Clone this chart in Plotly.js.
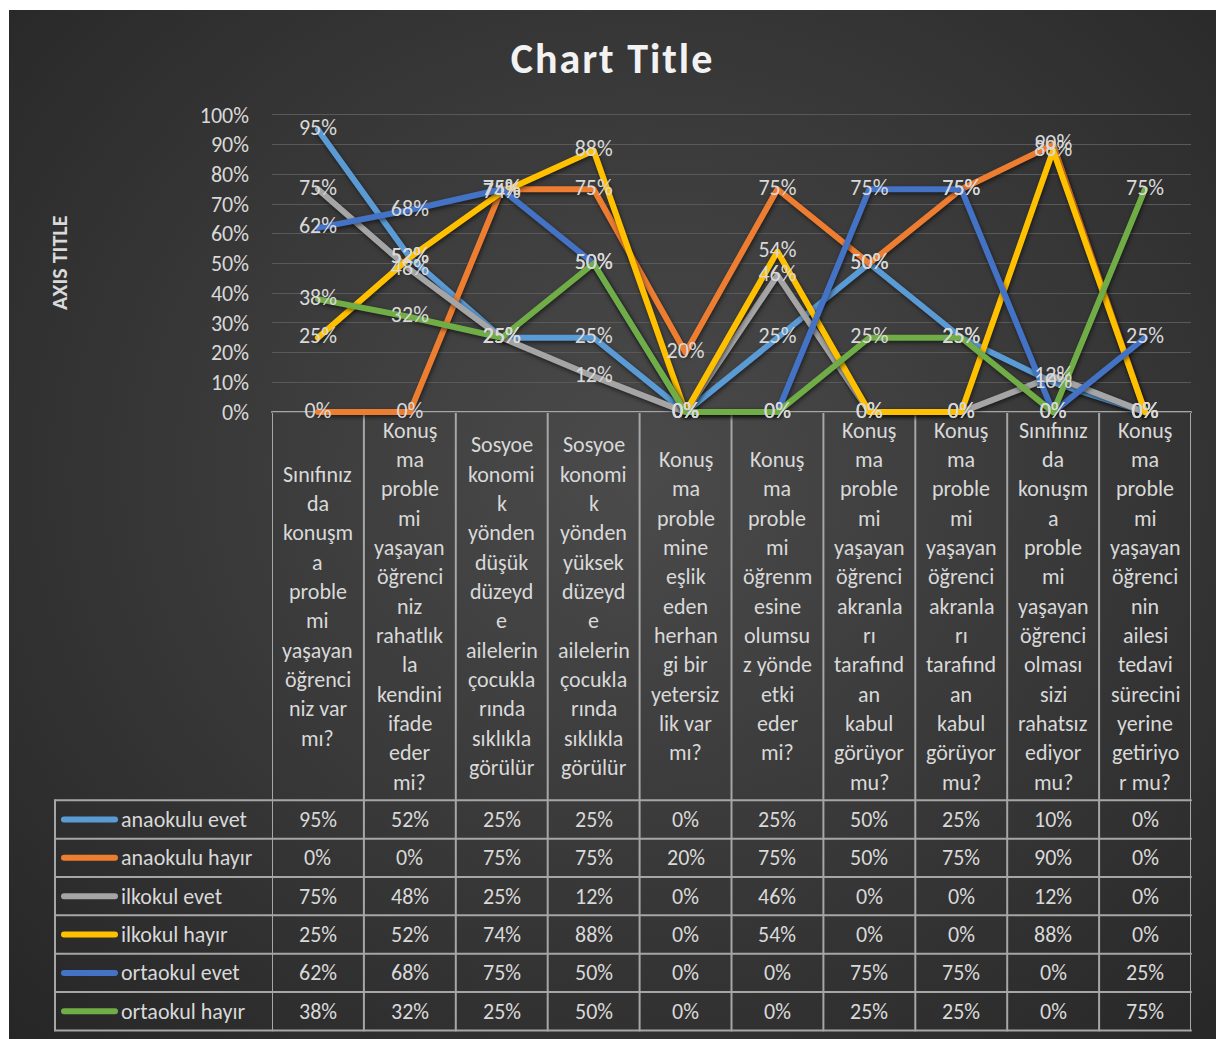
<!DOCTYPE html>
<html>
<head>
<meta charset="utf-8">
<script src="https://cdn.plot.ly/plotly-3.0.1.min.js"></script>
<style>
  html, body { margin: 0; padding: 0; background: #ffffff; }
  #chart {
    position: absolute; left: 9px; top: 10px; width: 1207px; height: 1029px;
    background: radial-gradient(ellipse farthest-corner at 52% 45%, #4b4b4b 0%, #3c3c3c 40%, #262626 100%);
  }
  .scatterlayer .js-line { stroke-linecap: round !important; stroke-linejoin: round !important;
    filter: drop-shadow(1px 2px 2px rgba(0,0,0,0.55)); }
  .shapelayer path { stroke-linecap: round; }
  .gtitle { letter-spacing: 2px; }
</style>
</head>
<body>
<div id="chart"></div>
<script>
// ---------------- DATA ----------------
const categoryLines = [
  "Sınıfınız\nda\nkonuşm\na\nproble\nmi\nyaşayan\nöğrenci\nniz var\nmı?",
  "Konuş\nma\nproble\nmi\nyaşayan\nöğrenci\nniz\nrahatlık\nla\nkendini\nifade\neder\nmi?",
  "Sosyoe\nkonomi\nk\nyönden\ndüşük\ndüzeyd\ne\nailelerin\nçocukla\nrında\nsıklıkla\ngörülür",
  "Sosyoe\nkonomi\nk\nyönden\nyüksek\ndüzeyd\ne\nailelerin\nçocukla\nrında\nsıklıkla\ngörülür",
  "Konuş\nma\nproble\nmine\neşlik\neden\nherhan\ngi bir\nyetersiz\nlik var\nmı?",
  "Konuş\nma\nproble\nmi\nöğrenm\nesine\nolumsu\nz yönde\netki\neder\nmi?",
  "Konuş\nma\nproble\nmi\nyaşayan\nöğrenci\nakranla\nrı\ntarafınd\nan\nkabul\ngörüyor\nmu?",
  "Konuş\nma\nproble\nmi\nyaşayan\nöğrenci\nakranla\nrı\ntarafınd\nan\nkabul\ngörüyor\nmu?",
  "Sınıfınız\nda\nkonuşm\na\nproble\nmi\nyaşayan\nöğrenci\nolması\nsizi\nrahatsız\nediyor\nmu?",
  "Konuş\nma\nproble\nmi\nyaşayan\nöğrenci\nnin\nailesi\ntedavi\nsürecini\nyerine\ngetiriyo\nr mu?"
];

const seriesNames = ["anaokulu evet", "anaokulu hayır", "ilkokul evet", "ilkokul hayır", "ortaokul evet", "ortaokul hayır"];

const anaokuluEvet  = [95, 52, 25, 25, 0, 25, 50, 25, 10, 0];
const anaokuluHayir = [0, 0, 75, 75, 20, 75, 50, 75, 90, 0];
const ilkokulEvet   = [75, 48, 25, 12, 0, 46, 0, 0, 12, 0];
const ilkokulHayir  = [25, 52, 74, 88, 0, 54, 0, 0, 88, 0];
const ortaokulEvet  = [62, 68, 75, 50, 0, 0, 75, 75, 0, 25];
const ortaokulHayir = [38, 32, 25, 50, 0, 0, 25, 25, 0, 75];

const yTickValues = [0, 10, 20, 30, 40, 50, 60, 70, 80, 90, 100];

// ---------------- STYLE / LAYOUT ----------------
const seriesValues = [anaokuluEvet, anaokuluHayir, ilkokulEvet, ilkokulHayir, ortaokulEvet, ortaokulHayir];
const colors = ["#5B9BD5", "#ED7D31", "#A5A5A5", "#FFC000", "#4472C4", "#70AD47"];
const FONT = "Carlito, Lato, 'Open Sans', sans-serif";
const TXT = "#d9d9d9";
const FS = 22;

const W = 1207, H = 1029;
const OX = 9, OY = 10;             // div offset in page
const Y0PAGE = 412, Y1PAGE = 115;  // page y of 0% and 100%
const PAD = 0.03;                  // extra y range so lines at 0% are not clipped
const unitPx = Y0PAGE - Y1PAGE;
const PH = unitPx * (1 + 2 * PAD);
const topMargin = (Y1PAGE - PAD * unitPx) - OY;
const M = { l: 263, r: 25, t: topMargin, b: H - topMargin - PH, pad: 0 };
const PW = W - M.l - M.r;
function fx(pageX) { return (pageX - OX - M.l) / PW; }
function fy(pageY) { return (OY + M.t + PH - pageY) / PH; }

const idx = categoryLines.map((c, i) => i);
const traces = [];
seriesValues.forEach((vals, s) => {
  traces.push({
    type: "scatter", mode: "lines", name: seriesNames[s],
    x: idx, y: vals.map(v => v / 100),
    line: { color: colors[s], width: 6 },
    hoverinfo: "skip", showlegend: false
  });
});
seriesValues.forEach((vals, s) => {
  traces.push({
    type: "scatter", mode: "text",
    x: idx, y: vals.map(v => v / 100),
    text: vals.map(v => v + "%"),
    textposition: "middle center",
    textfont: { family: FONT, size: FS, color: TXT },
    cliponaxis: false, hoverinfo: "skip", showlegend: false
  });
});

const shapes = [];
const annotations = [];
const lineColor = "#a6a6a6";

// table geometry (page px)
const catTop = Y0PAGE, tableTop = 800, tableBottom = 1030, leftX = 55;
const rowH = (tableBottom - tableTop) / seriesNames.length;

for (let k = 0; k <= categoryLines.length; k++) {
  shapes.push({ type: "line", xref: "x", yref: "paper", x0: k - 0.5, x1: k - 0.5,
    y0: fy(catTop), y1: fy(tableBottom), line: { color: lineColor, width: 2 }, layer: "below" });
}
shapes.push({ type: "line", xref: "paper", yref: "paper", x0: 0, x1: 1, y0: fy(catTop), y1: fy(catTop),
  line: { color: lineColor, width: 2 }, layer: "below" });
shapes.push({ type: "line", xref: "paper", yref: "paper", x0: fx(leftX), x1: fx(leftX),
  y0: fy(tableTop), y1: fy(tableBottom), line: { color: lineColor, width: 2 } });
for (let r = 0; r <= seriesNames.length; r++) {
  const yy = fy(tableTop + r * rowH);
  shapes.push({ type: "line", xref: "paper", yref: "paper", x0: fx(leftX), x1: 1,
    y0: yy, y1: yy, line: { color: lineColor, width: 2 } });
}

// category labels
const catCenter = (catTop + tableTop) / 2;
const lineStep = 29.3;
categoryLines.forEach((lab, i) => {
  const lines = lab.split("\n");
  const n = lines.length;
  lines.forEach((ln, j) => {
    annotations.push({ xref: "x", yref: "paper", x: i, y: fy(catCenter + (j - (n - 1) / 2) * lineStep),
      text: ln, showarrow: false, xanchor: "center", yanchor: "middle",
      font: { family: FONT, size: FS, color: TXT } });
  });
});

// table rows: legend key, name, values
seriesNames.forEach((name, s) => {
  const cy = fy(tableTop + (s + 0.5) * rowH);
  shapes.push({ type: "line", xref: "paper", yref: "paper", x0: fx(64), x1: fx(115), y0: cy, y1: cy,
    line: { color: colors[s], width: 6 } });
  annotations.push({ xref: "paper", yref: "paper", x: fx(119), y: cy, text: name, showarrow: false,
    xanchor: "left", yanchor: "middle", font: { family: FONT, size: FS, color: TXT } });
  seriesValues[s].forEach((v, i) => {
    annotations.push({ xref: "x", yref: "paper", x: i, y: cy, text: v + "%", showarrow: false,
      xanchor: "center", yanchor: "middle", font: { family: FONT, size: FS, color: TXT } });
  });
});

// axis title
annotations.push({ xref: "paper", yref: "paper", x: fx(60), y: fy(263), text: "<b>AXIS TITLE</b>",
  textangle: -90, showarrow: false, xanchor: "center", yanchor: "middle",
  font: { family: FONT, size: 22, color: TXT } });

const layout = {
  width: W, height: H,
  margin: M,
  paper_bgcolor: "rgba(0,0,0,0)", plot_bgcolor: "rgba(0,0,0,0)",
  title: { text: "<b>Chart Title</b>", x: 0.5, xanchor: "center", y: 1 - 48 / H, yanchor: "middle",
    font: { family: FONT, size: 42, color: "#f2f2f2" } },
  showlegend: false,
  xaxis: { range: [-0.5, categoryLines.length - 0.5], showticklabels: false, showgrid: false,
    zeroline: false, showline: false, ticks: "", fixedrange: true },
  yaxis: { range: [-PAD, 1 + PAD], tickvals: yTickValues.map(v => v / 100), ticktext: yTickValues.map(v => v + "%"),
    showgrid: true, gridcolor: "#595959", gridwidth: 1, zeroline: false, showline: false, ticks: "",
    ticklabelstandoff: 22, tickfont: { family: FONT, size: FS, color: TXT }, fixedrange: true },
  shapes: shapes, annotations: annotations
};

Plotly.newPlot("chart", traces, layout, { displayModeBar: false, staticPlot: true });
</script>
</body>
</html>
